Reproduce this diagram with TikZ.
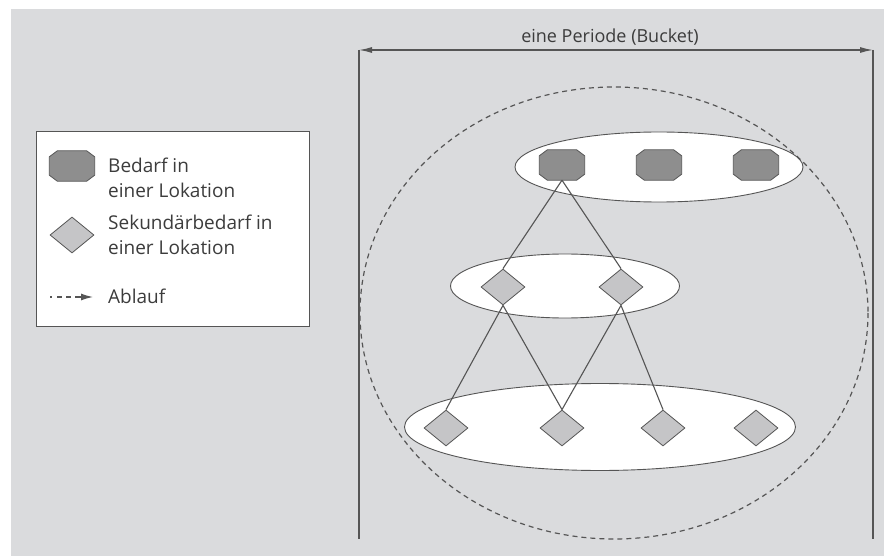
\documentclass[tikz,border=0pt]{standalone}
\usepackage{fontspec}
\setmainfont{Open Sans}
\usetikzlibrary{shapes.geometric,arrows.meta}
\definecolor{bucketbg}{HTML}{DADBDD}
\definecolor{linegray}{HTML}{555555}
\definecolor{darkfill}{HTML}{8E8E8E}
\definecolor{lightfill}{HTML}{C5C5C7}
\definecolor{txtgray}{HTML}{3C3C3C}
\tikzset{
    bedarf/.style={rectangle, minimum width=45pt, minimum height=30pt, inner sep=0pt,
        append after command={\pgfextra{
            \draw[draw=linegray,fill=darkfill,line width=0.8pt]
                ([xshift=8pt]\tikzlastnode.north west) -- ([xshift=-8pt]\tikzlastnode.north east)
                -- ([yshift=-6pt]\tikzlastnode.north east) -- ([yshift=6pt]\tikzlastnode.south east)
                -- ([xshift=-8pt]\tikzlastnode.south east) -- ([xshift=8pt]\tikzlastnode.south west)
                -- ([yshift=6pt]\tikzlastnode.south west) -- ([yshift=-6pt]\tikzlastnode.north west) -- cycle;}}},
    sekbedarf/.style={diamond, minimum width=44pt, minimum height=36pt, inner sep=0pt, draw=linegray, fill=lightfill, line width=0.8pt},
    ebene/.style={ellipse, draw=linegray, fill=white, line width=0.9pt, inner sep=0pt},
    kante/.style={draw=linegray, line width=1.1pt},
    legtext/.style={anchor=west, align=left, text=txtgray, inner sep=0pt, font=\fontsize{19}{25}\selectfont},
}

\begin{document}
\begin{tikzpicture}[x=1pt,y=-1pt]
                \useasboundingbox (0,0) rectangle (884,556);
                \fill[white] (0,0) rectangle (884,556);
                \fill[bucketbg] (11,9) rectangle (884,556);

                % legend
                \draw[linegray,fill=white,line width=0.9pt] (36,131) rectangle (309,326);
                    \node[bedarf] (legbd) at (72,166) {};
                    \node[legtext] (legbdtxt) at (108,178) {Bedarf in\\einer Lokation};
                    \node[sekbedarf] (legsb) at (72,235) {};
                    \node[legtext] (legsbtxt) at (108,235) {Sekundärbedarf in\\einer Lokation};
                    \coordinate (ablA) at (50,297);
                    \coordinate (ablB) at (93,297);
                    \draw[linegray,line width=1.2pt,dash pattern=on 2pt off 5pt on 5pt off 4pt on 5pt off 4pt on 20pt,-{Latex[length=12pt,width=7pt]}] (ablA) -- (ablB);
                    \node[legtext] (legabl) at (108,296) {Ablauf};

                % one period
                \coordinate (pl) at (359,50);
                \coordinate (pr) at (873,50);
                \coordinate (plb) at (359,539);
                \coordinate (prb) at (873,539);
                \draw[linegray,line width=1.8pt] (pl) -- (plb);
                \draw[linegray,line width=1.8pt] (pr) -- (prb);
                \draw[linegray,line width=1.3pt,{Latex[length=13pt,width=6pt]}-{Latex[length=13pt,width=6pt]}] (pl) -- (pr);
                \node[text=txtgray,font=\fontsize{18}{25}\selectfont] (periode) at (610,37) {eine Periode (Bucket)};

                \draw[linegray,line width=1.2pt,dash pattern=on 5pt off 4pt] (614,313) ellipse [x radius=254, y radius=226];

                % levels
                \node[ebene,minimum width=288pt,minimum height=70pt] (lvlA) at (659,167) {};
                \node[ebene,minimum width=229pt,minimum height=64pt] (lvlB) at (565,286) {};
                \node[ebene,minimum width=391pt,minimum height=87pt] (lvlC) at (600,427) {};

                \node[bedarf] (bd1) at (562,165) {};
                \node[bedarf] (bd2) at (659,165) {};
                \node[bedarf] (bd3) at (756,165) {};
                \node[sekbedarf] (sb1) at (503,287) {};
                \node[sekbedarf] (sb2) at (621,287) {};
                \node[sekbedarf] (sc1) at (446,428) {};
                \node[sekbedarf] (sc2) at (562,428) {};
                \node[sekbedarf] (sc3) at (663,428) {};
                \node[sekbedarf] (sc4) at (756,428) {};

                \draw[kante] (bd1.south) -- (sb1.north);
                \draw[kante] (bd1.south) -- (sb2.north);
                \draw[kante] (sb1.south) -- (sc1.north);
                \draw[kante] (sb1.south) -- (sc2.north);
                \draw[kante] (sb2.south) -- (sc2.north);
                \draw[kante] (sb2.south) -- (sc3.north);
\end{tikzpicture}
\end{document}
